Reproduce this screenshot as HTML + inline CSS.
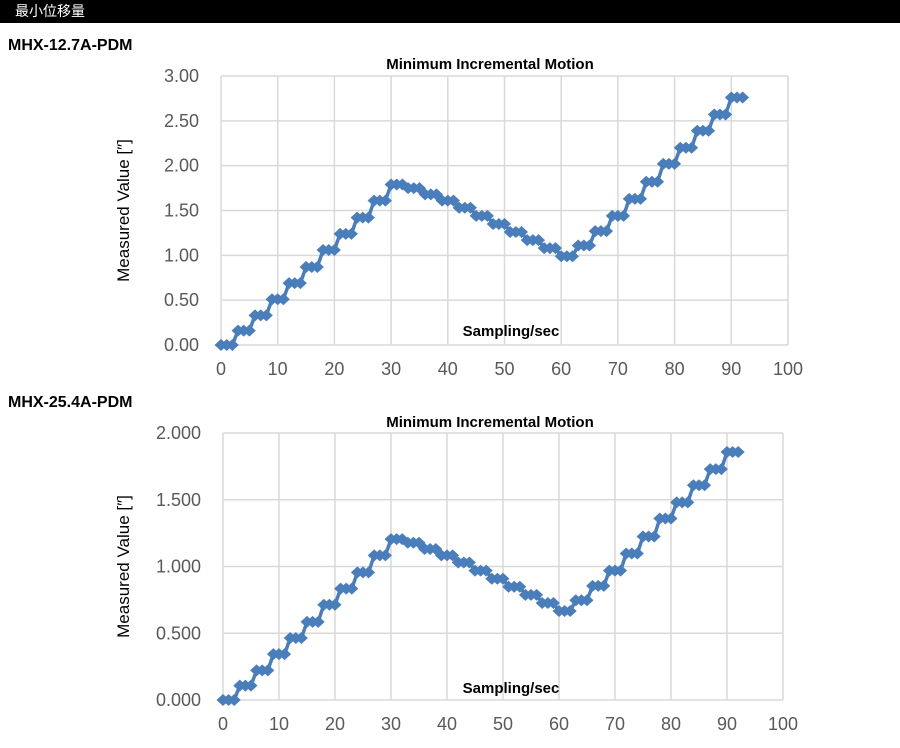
<!DOCTYPE html>
<html><head><meta charset="utf-8"><style>
body{margin:0;width:900px;height:748px;background:#fff;overflow:hidden;font-family:"Liberation Sans","Noto Sans CJK JP",sans-serif}
.hdr{position:absolute;left:0;top:0;width:900px;height:23px;background:#000;color:#fff;font-size:14px;line-height:23px;padding-left:15px;box-sizing:border-box}
.lab{position:absolute;left:8px;font-weight:bold;font-size:16px;color:#000}
</style></head><body>
<div class="hdr">最小位移量</div>
<div class="lab" style="top:37px">MHX-12.7A-PDM</div>
<div class="lab" style="top:394px">MHX-25.4A-PDM</div>
<svg id="s" width="900" height="748" style="position:absolute;left:0;top:0"></svg>
<script>
var L=[0,0.16,0.33,0.51,0.69,0.87,1.06,1.24,1.42,1.61,1.79,1.75,1.68,1.61,1.53,1.44,1.35,1.26,1.17,1.08,0.99,1.11,1.27,1.44,1.63,1.82,2.02,2.20,2.39,2.57,2.76];
var s='';
function chart(x0,x1,yt,yb,ymax,step,dec,scale,titleY,sampY){
  var W=x1-x0,H=yb-yt,ff='font-family="Liberation Sans,sans-serif"';
  for(var i=0;i<=10;i++){var x=x0+W*i/10;s+='<line x1="'+x+'" y1="'+yt+'" x2="'+x+'" y2="'+yb+'" stroke="#d9d9d9" stroke-width="1.5"/>';
    s+='<text x="'+x+'" y="'+(yb+30)+'" text-anchor="middle" font-size="18" fill="#595959" '+ff+'>'+(i*10)+'</text>';}
  var n=Math.round(ymax/step);
  for(var j=0;j<=n;j++){var y=yb-H*j/n;s+='<line x1="'+x0+'" y1="'+y+'" x2="'+x1+'" y2="'+y+'" stroke="#d9d9d9" stroke-width="1.5"/>';
    s+='<text x="'+(x0-22)+'" y="'+(y+6)+'" text-anchor="end" font-size="18" fill="#595959" '+ff+'>'+(j*step).toFixed(dec)+'</text>';}
  var pts=[];
  for(var k=0;k<=92;k++){var v=L[Math.floor(k/3)]*scale;pts.push([x0+W*k/100,yb-H*v/ymax]);}
  s+='<polyline fill="none" stroke="#4a7ebb" stroke-width="3.5" points="'+pts.map(function(p){return p.join(',')}).join(' ')+'"/>';
  pts.forEach(function(p){s+='<polygon fill="#4a7ebb" points="'+(p[0]-6.5)+','+p[1]+' '+p[0]+','+(p[1]-6)+' '+(p[0]+6.5)+','+p[1]+' '+p[0]+','+(p[1]+6)+'"/>';});
  s+='<text x="490" y="'+titleY+'" text-anchor="middle" font-size="15" font-weight="bold" fill="#000" '+ff+'>Minimum Incremental Motion</text>';
  s+='<text x="511" y="'+sampY+'" text-anchor="middle" font-size="15" font-weight="bold" fill="#000" '+ff+'>Sampling/sec</text>';
  var cy=(yt+yb)/2;
  s+='<text transform="translate(129,'+cy+') rotate(-90)" text-anchor="middle" font-size="17" fill="#000" '+ff+'>Measured Value [″]</text>';
}
chart(221,788,76,345,3,0.5,2,1,69,336);
chart(223,783,433,700,2,0.5,3,0.673,427,693);
document.getElementById('s').innerHTML=s;
</script>
</body></html>
